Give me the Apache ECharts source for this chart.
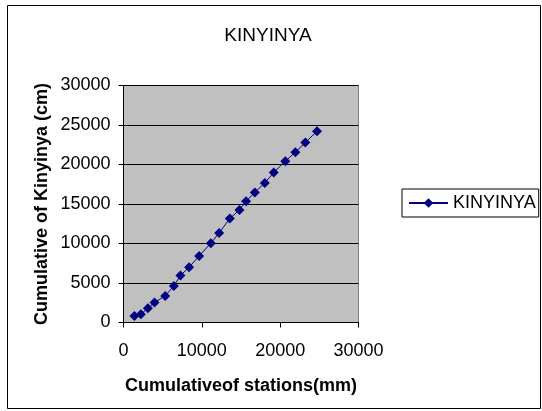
<!DOCTYPE html>
<html><head><meta charset="utf-8">
<script src="https://cdn.jsdelivr.net/npm/echarts@6/dist/echarts.min.js"></script>
<style>html,body{margin:0;padding:0;background:#fff}#c{width:542px;height:411px}</style>
</head><body><div id="c"></div>
<script>
const seriesName = 'KINYINYA';
const xValues = [1400, 2220, 3110, 3960, 5320, 6430, 7270, 8380, 9660, 11150, 12210, 13570, 14800, 15650, 16760, 18040, 19180, 20660, 21940, 23210, 24700];
const yValues = [835, 1050, 1810, 2530, 3370, 4630, 5950, 7000, 8430, 10040, 11340, 13160, 14250, 15350, 16460, 17670, 18990, 20420, 21560, 22780, 24210];
const chart = echarts.init(document.getElementById('c'));
const font = 'Liberation Sans, Arial, sans-serif';
chart.setOption({
  animation: false,
  backgroundColor: '#fff',
  title: { text: 'KINYINYA', left: 263, top: 21, textAlign: 'center', textStyle: { fontFamily: font, fontSize: 19, fontWeight: 'normal', color: '#000' } },
  graphic: [
    { type: 'rect', shape: { x: 7.5, y: 5.5, width: 533, height: 403 }, style: { fill: null, stroke: '#000', lineWidth: 1 }, z: -1 },
    { type: 'rect', shape: { x: 123.5, y: 85.5, width: 235, height: 237 }, style: { fill: null, stroke: '#808080', lineWidth: 1 }, z: 0 }
  ],
  legend: {
    data: [seriesName], left: 402, top: 189, orient: 'vertical',
    borderColor: '#000', borderWidth: 1, padding: [5, 3, 5, 6],
    itemWidth: 39, itemHeight: 12, itemGap: 4,
    textStyle: { fontFamily: font, fontSize: 18, color: '#000', padding: [0, 0, 0, 0] }
  },
  grid: { left: 123.5, top: 85.5, width: 235, height: 237, backgroundColor: '#C0C0C0', show: true, borderWidth: 0 },
  xAxis: {
    type: 'value', min: 0, max: 30000, interval: 10000,
    name: 'Cumulativeof stations(mm)', nameLocation: 'middle', nameGap: 55,
    nameTextStyle: { fontFamily: font, fontSize: 18, fontWeight: 'bold', color: '#000' },
    axisLine: { lineStyle: { color: '#000' } },
    axisTick: { show: true, inside: false, length: 5, lineStyle: { color: '#000' } },
    axisLabel: { fontFamily: font, fontSize: 18, color: '#000', margin: 20, formatter: v => String(v) },
    splitLine: { show: false }
  },
  yAxis: {
    type: 'value', min: 0, max: 30000, interval: 5000,
    name: 'Cumulative of Kinyinya (cm)', nameLocation: 'middle', nameGap: 72,
    nameTextStyle: { fontFamily: font, fontSize: 18, fontWeight: 'bold', color: '#000' },
    axisLine: { show: true, lineStyle: { color: '#000' } },
    axisTick: { show: true, inside: false, length: 5, lineStyle: { color: '#000' } },
    axisLabel: { fontFamily: font, fontSize: 18, color: '#000', margin: 13, formatter: v => String(v) },
    splitLine: { show: true, lineStyle: { color: '#000', width: 1 } }
  },
  series: [{
    name: seriesName, type: 'line',
    data: xValues.map((x, i) => [x, yValues[i]]),
    symbol: 'diamond', symbolSize: 10,
    lineStyle: { color: '#000080', width: 1 },
    itemStyle: { color: '#000080' }
  }]
});
</script></body></html>
